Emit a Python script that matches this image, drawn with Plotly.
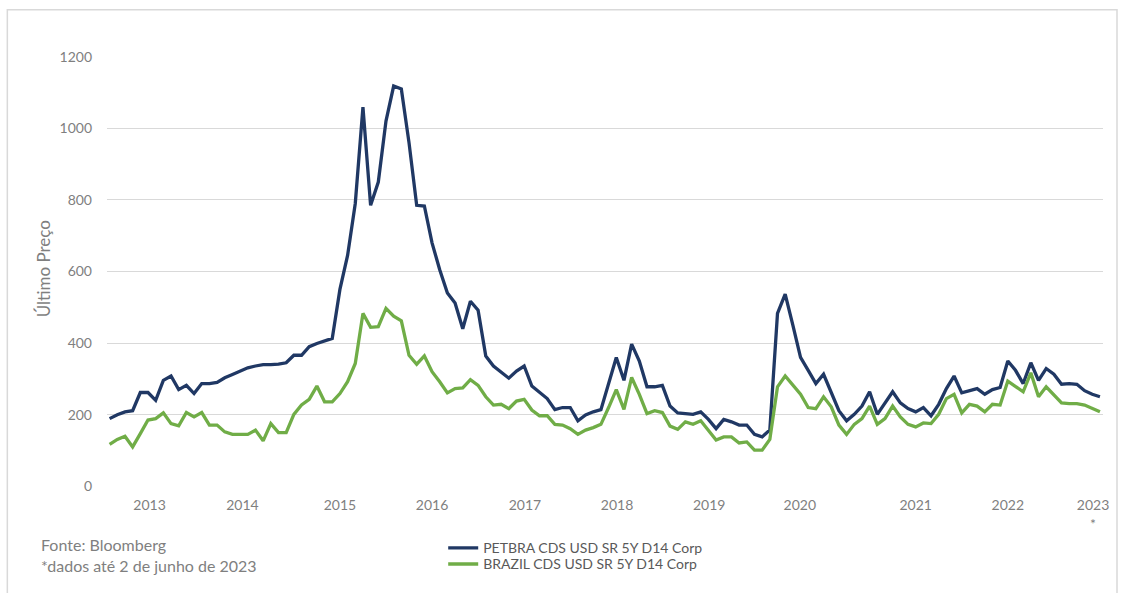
import plotly.graph_objects as go

petbra = [189, 200, 208, 211, 262, 262, 240, 296, 308, 270,
          282, 259, 287, 287, 290, 303, 312, 322, 331, 336,
          340, 340, 341, 345, 366, 366, 390, 399, 406, 413,
          550, 645, 790, 1059, 785, 850, 1020, 1118, 1110, 960,
          785, 783, 680, 605, 540, 512, 440, 517, 492, 364,
          336, 320, 302, 322, 336, 280, 261, 245, 214, 220,
          220, 183, 199, 208, 214, 285, 360, 296, 397, 350,
          278, 278, 282, 224, 205, 203, 201, 208, 187, 161,
          187, 180, 171, 171, 145, 138, 157, 483, 537, 450,
          360, 324, 287, 313, 259, 211, 183, 201, 224, 264,
          201, 231, 264, 233, 217, 208, 220, 197, 229, 273,
          308, 261, 267, 273, 257, 270, 276, 350, 324, 287,
          345, 296, 329, 313, 285, 287, 285, 267, 257, 250]

brazil = [117, 131, 140, 110, 147, 185, 189, 205, 175, 169,
          206, 194, 206, 171, 171, 152, 145, 145, 145, 157,
          127, 175, 150, 150, 201, 227, 243, 280, 236, 236,
          259, 292, 343, 483, 444, 446, 497, 475, 462, 366,
          341, 364, 320, 292, 261, 273, 275, 298, 282, 250,
          227, 229, 217, 238, 243, 213, 197, 197, 173, 171,
          161, 145, 157, 164, 173, 220, 270, 215, 304, 257,
          203, 211, 206, 168, 159, 180, 173, 183, 155, 129,
          138, 138, 121, 124, 101, 101, 131, 278, 308, 283,
          257, 220, 217, 250, 222, 171, 145, 173, 189, 224,
          173, 189, 224, 194, 173, 166, 177, 175, 201, 245,
          257, 205, 229, 224, 208, 229, 227, 294, 278, 264,
          317, 250, 278, 255, 233, 231, 231, 227, 217, 208]

year_labels = ["2013", "2014", "2015", "2016", "2017", "2018",
               "2019", "2020", "2021", "2022", "2023"]
year_label_pos = [5.2, 17.3, 30.0, 42.0, 54.1, 66.1, 78.1, 89.9, 105.0, 117.0, 128.1]

series_names = ["PETBRA CDS USD SR 5Y D14 Corp", "BRAZIL CDS USD SR 5Y D14 Corp"]
series_colors = ["#203864", "#70AD47"]

# ---- layout constants ----
W, H = 1122, 593
ML, MR, MT, MB = 106.7, 19, 56.3, 106.3
PW = W - ML - MR
PH = H - MT - MB


def px_x(px):
    return (px - ML) / PW


def px_y(py):
    return (H - MB - py) / PH


FONT = "Lato, 'Open Sans', sans-serif"
GRAY = "#7f7f7f"

idx = list(range(len(petbra)))
legend_ids = ["legend", "legend2"]
legend_tops = [532, 548]

fig = go.Figure()
for name, vals, col, lg in zip(series_names, [petbra, brazil], series_colors, legend_ids):
    fig.add_trace(go.Scatter(
        x=idx, y=vals, mode="lines", name=name,
        line=dict(color=col, width=3.3),
        hoverinfo="skip", legend=lg,
    ))

legend_common = dict(
    x=px_x(443), xanchor="left", yanchor="top",
    orientation="v", bgcolor="rgba(0,0,0,0)",
    font=dict(family=FONT, size=14, color="#595959"),
    itemwidth=30,
)

fig.update_layout(
    width=W, height=H,
    margin=dict(l=ML, r=MR, t=MT, b=MB, pad=0, autoexpand=False),
    paper_bgcolor="white", plot_bgcolor="white",
    font=dict(family=FONT, size=14, color=GRAY),
    showlegend=True,
    legend=dict(y=px_y(legend_tops[0]), **legend_common),
    legend2=dict(y=px_y(legend_tops[1]), **legend_common),
    xaxis=dict(
        range=[-0.34, 129.4], showgrid=False, zeroline=False, showline=False,
        tickmode="array", tickvals=year_label_pos, ticktext=year_labels,
        ticks="", ticklabelstandoff=8, automargin=False,
        tickfont=dict(family=FONT, size=14, color=GRAY),
    ),
    yaxis=dict(
        range=[-2, 1202], showgrid=True, gridcolor="#d9d9d9", gridwidth=1.3,
        zeroline=False, showline=False,
        tickmode="array", tickvals=[0, 200, 400, 600, 800, 1000, 1200],
        ticks="", ticklabelstandoff=14, automargin=False,
        tickfont=dict(family=FONT, size=14, color=GRAY),
    ),
    shapes=[dict(
        type="rect", xref="paper", yref="paper",
        x0=px_x(7), x1=px_x(1117), y0=px_y(620), y1=px_y(10),
        line=dict(color="#d9d9d9", width=1.5), fillcolor="rgba(0,0,0,0)",
        layer="below",
    )],
    annotations=[
        dict(text="Último Preço", xref="paper", yref="paper",
             x=px_x(44), y=px_y(269), textangle=-90, showarrow=False,
             xanchor="center", yanchor="middle",
             font=dict(family=FONT, size=17, color=GRAY)),
        dict(text="*", xref="x", yref="paper", x=year_label_pos[-1], y=px_y(523),
             showarrow=False, xanchor="center", yanchor="middle",
             font=dict(family=FONT, size=14, color=GRAY)),
        dict(text="Fonte: Bloomberg", xref="paper", yref="paper",
             x=px_x(39), y=px_y(544), showarrow=False,
             xanchor="left", yanchor="middle",
             font=dict(family=FONT, size=16, color=GRAY)),
        dict(text="*dados até 2 de junho de 2023", xref="paper", yref="paper",
             x=px_x(39), y=px_y(565), showarrow=False,
             xanchor="left", yanchor="middle",
             font=dict(family=FONT, size=16, color=GRAY)),
    ],
)

fig.write_html("out.html", config={"displayModeBar": False},
               post_script="document.body.style.margin='0';")
